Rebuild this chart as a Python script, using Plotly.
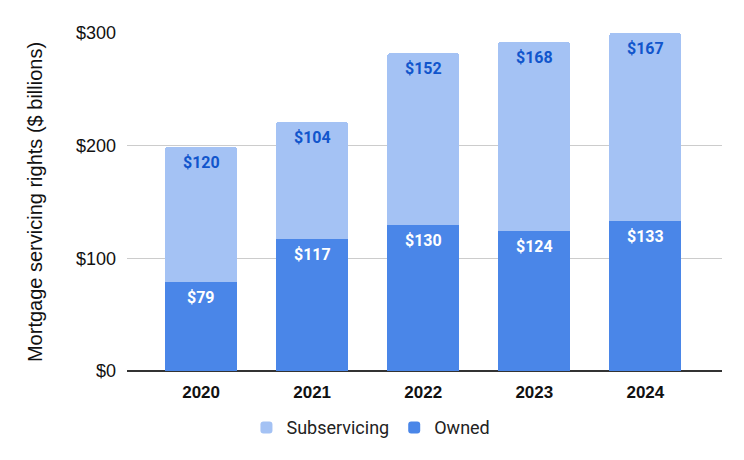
import plotly.graph_objects as go

years = ["2020", "2021", "2022", "2023", "2024"]
owned = [79, 117, 130, 124, 133]
subservicing = [120, 104, 152, 168, 167]
y_ticks = [0, 100, 200, 300]
y_tick_labels = ["$0", "$100", "$200", "$300"]

OWNED_C = "#4a86e8"
SUB_C = "#a4c2f4"

fig = go.Figure()
fig.add_trace(go.Bar(
    x=years, y=owned, name="Owned",
    marker=dict(color=OWNED_C, line=dict(width=0)), width=0.65,
))
fig.add_trace(go.Bar(
    x=years, y=subservicing, name="Subservicing",
    marker=dict(color=SUB_C, line=dict(width=0)), width=0.65,
))

for i, (o, s) in enumerate(zip(owned, subservicing)):
    fig.add_annotation(x=i, y=o, xref="x", yref="y", text=f"${o}", showarrow=False,
                       yshift=-15.5, yanchor="middle",
                       font=dict(family="Roboto", size=16, weight="bold", color="white"))
    fig.add_annotation(x=i, y=o + s, xref="x", yref="y", text=f"${s}", showarrow=False,
                       yshift=-15.5, yanchor="middle",
                       font=dict(family="Roboto", size=16, weight="bold", color="#1155cc"))

fig.update_layout(
    barmode="stack",
    barcornerradius=3,
    width=736, height=452,
    margin=dict(l=119, r=22, t=25, b=89),
    plot_bgcolor="white", paper_bgcolor="white",
    legend=dict(orientation="h", x=0.41, xanchor="center", y=-0.113, yanchor="top",
                traceorder="reversed",
                font=dict(family="Roboto", size=18, color="#222222")),
    xaxis=dict(type="category", range=[-0.667, 4.69], showgrid=False, ticks="",
               ticklabelstandoff=9,
               tickfont=dict(family="Liberation Sans, Arial", size=17, color="#111111", weight="bold")),
    yaxis=dict(range=[0, 300], tickvals=y_ticks, ticktext=y_tick_labels,
               gridcolor="#cccccc", gridwidth=1,
               zeroline=True, zerolinecolor="#333333", zerolinewidth=1.5,
               tickfont=dict(family="Liberation Sans, Arial", size=18, color="#111111"),
               ticklabelstandoff=10,
               title=dict(text="Mortgage servicing rights ($ billions)",
                          font=dict(family="Liberation Sans, Arial", size=20, color="#111111"),
                          standoff=27)),
)
fig.write_html("out.html")
